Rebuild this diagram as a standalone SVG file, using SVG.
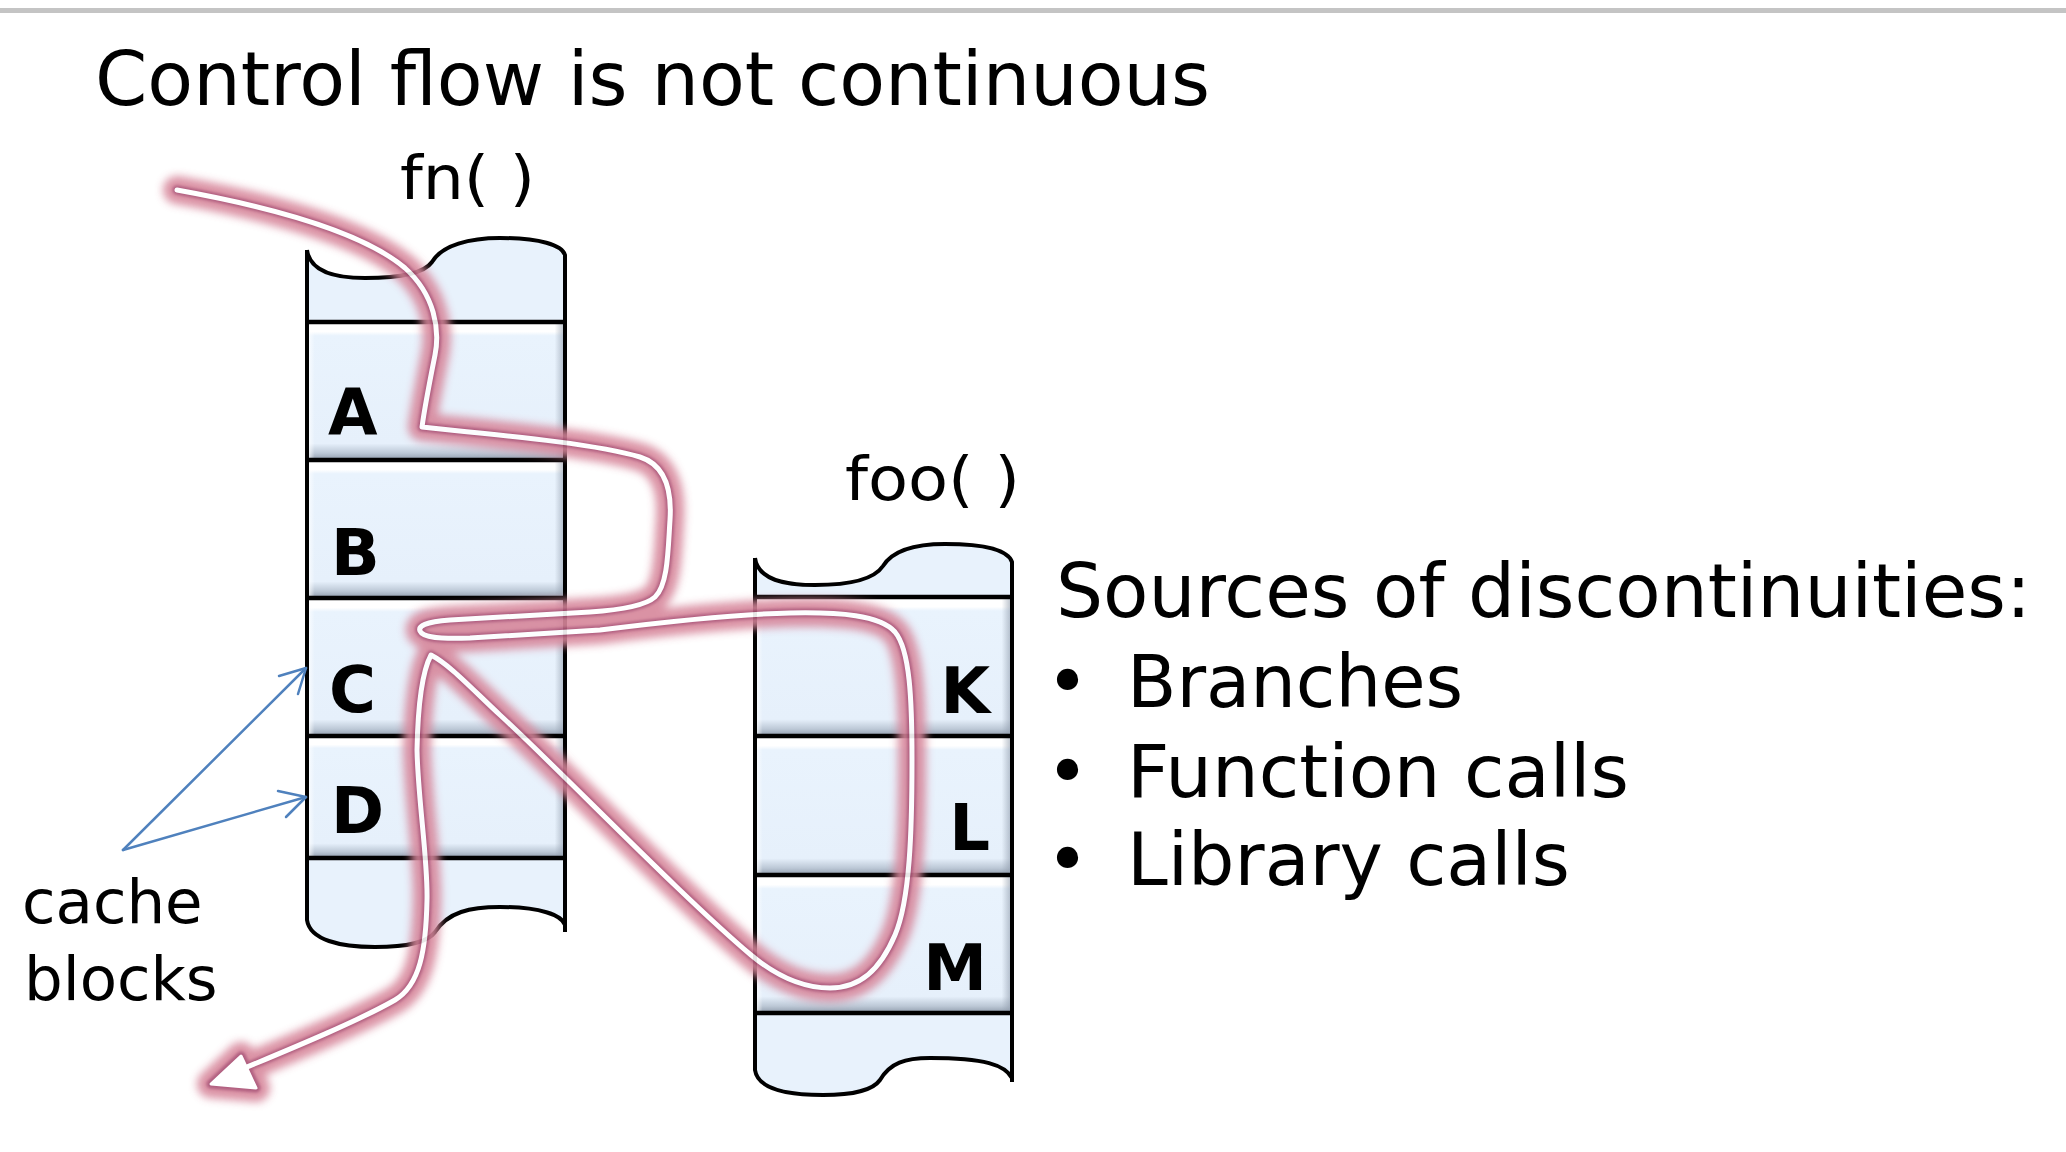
<svg xmlns="http://www.w3.org/2000/svg" width="2066" height="1152" viewBox="0 0 2066 1152">
<style>
.t{font-family:"DejaVu Sans",Verdana,sans-serif;fill:#000}
.lbl{font-family:"DejaVu Sans",Verdana,sans-serif;font-weight:bold;font-size:64px;fill:#000}
.edge{fill:none;stroke:#000;stroke-width:4;stroke-linejoin:round}
.rowline{stroke:#000;stroke-width:4.5}
.cap{fill:#e8f2fc}
.blue{fill:none;stroke:#4f81bd;stroke-width:2.5;stroke-linecap:round;stroke-linejoin:round}
.halo{fill:none;stroke:#d7879b;stroke-width:28;stroke-linecap:round;stroke-linejoin:round}
.core{fill:none;stroke:#a84e72;stroke-width:9;stroke-linecap:round;stroke-linejoin:round}
.hi{fill:none;stroke:#ffffff;stroke-width:5;stroke-linecap:round;stroke-linejoin:round}
</style>
<defs>
<linearGradient id="rowV" x1="0" y1="0" x2="0" y2="1">
<stop offset="0" stop-color="#ffffff"/>
<stop offset="0.07" stop-color="#ffffff"/>
<stop offset="0.1" stop-color="#e9f3fd"/>
<stop offset="0.88" stop-color="#e6f0fb"/>
<stop offset="0.95" stop-color="#bcc8d6"/>
<stop offset="1" stop-color="#8f9bab"/>
</linearGradient>
<linearGradient id="rowH" x1="0" y1="0" x2="1" y2="0">
<stop offset="0" stop-color="#ffffff" stop-opacity="0.9"/>
<stop offset="0.03" stop-color="#ffffff" stop-opacity="0"/>
<stop offset="0.96" stop-color="#8f9bab" stop-opacity="0"/>
<stop offset="1" stop-color="#8f9bab" stop-opacity="0.7"/>
</linearGradient>
<filter id="blur4" x="-20%" y="-20%" width="140%" height="140%"><feGaussianBlur stdDeviation="4.5"/></filter>
<filter id="blur2" x="-20%" y="-20%" width="140%" height="140%"><feGaussianBlur stdDeviation="1.5"/></filter>
<path id="flow" d="M177,190 C260,205 360,230 405,268 C435,295 440,330 435,355 C430,380 425,405 422,427 L450,430 C520,437 600,445 640,457 C665,465 672,490 670,520 C668,550 668,585 655,597 C645,606 620,610 590,612 L450,620 C425,622 418,626 420,631 C423,638 440,639 470,638 L600,630 C680,620 740,614 790,613 C840,612 880,615 895,632 C910,650 912,700 912,760 C912,830 910,900 895,935 C880,970 860,988 830,988 C800,988 775,975 751,955 C680,895 560,770 500,715 C470,687 450,665 431,655 C423,670 418,700 417,750 C418,800 428,860 427,900 C426,950 420,985 395,1000 C360,1020 300,1045 240,1070"/>
<polygon id="ahead" points="211,1084 241,1056 256,1088"/>
</defs>
<rect width="2066" height="1152" fill="#ffffff"/>
<rect x="0" y="8" width="2066" height="5" fill="#c4c4c4"/>

<text id="title" class="t" x="95" y="105" font-size="75" textLength="1115" lengthAdjust="spacingAndGlyphs">Control flow is not continuous</text>

<g id="fn-column">
<text class="t" x="400" y="199" font-size="60" textLength="135" lengthAdjust="spacingAndGlyphs">fn( )</text>
<path class="cap" d="M307,250 C310,272 335,278 365,278 C405,278 425,272 432,262 C442,245 470,238 500,238 C540,238 562,245 565,255 L565,925 C562,915 540,907 500,907 C470,907 448,912 435,932 C428,942 410,947 375,947 C340,947 310,940 307,920 Z"/>
<g id="block-A"><rect x="307" y="322" width="258" height="138" fill="url(#rowV)"/><rect x="307" y="322" width="258" height="138" fill="url(#rowH)"/><text class="lbl" x="328" y="435">A</text></g>
<g id="block-B"><rect x="307" y="460" width="258" height="138" fill="url(#rowV)"/><rect x="307" y="460" width="258" height="138" fill="url(#rowH)"/><text class="lbl" x="331" y="575">B</text></g>
<g id="block-C"><rect x="307" y="598" width="258" height="138" fill="url(#rowV)"/><rect x="307" y="598" width="258" height="138" fill="url(#rowH)"/><text class="lbl" x="329" y="712">C</text></g>
<g id="block-D"><rect x="307" y="736" width="258" height="122" fill="url(#rowV)"/><rect x="307" y="736" width="258" height="122" fill="url(#rowH)"/><text class="lbl" x="331" y="833">D</text></g>
<path class="edge" d="M307,250 C310,272 335,278 365,278 C405,278 425,272 432,262 C442,245 470,238 500,238 C540,238 562,245 565,255 L565,932 M565,925 C562,915 540,907 500,907 C470,907 448,912 435,932 C428,942 410,947 375,947 C340,947 310,940 307,920 L307,250"/>
<line class="rowline" x1="307" y1="322" x2="565" y2="322"/>
<line class="rowline" x1="307" y1="460" x2="565" y2="460"/>
<line class="rowline" x1="307" y1="598" x2="565" y2="598"/>
<line class="rowline" x1="307" y1="736" x2="565" y2="736"/>
<line class="rowline" x1="307" y1="858" x2="565" y2="858"/>
</g>

<g id="foo-column">
<text class="t" x="845" y="500" font-size="60" textLength="175" lengthAdjust="spacingAndGlyphs">foo( )</text>
<path class="cap" d="M755,558 C758,580 785,585 815,585 C855,585 875,578 883,566 C893,550 915,544 945,544 C985,544 1008,550 1012,562 L1012,1078 C1005,1065 985,1058 930,1058 C905,1058 890,1063 880,1080 C873,1090 855,1095 823,1095 C790,1095 758,1090 755,1070 Z"/>
<g id="block-K"><rect x="755" y="597" width="257" height="139" fill="url(#rowV)"/><rect x="755" y="597" width="257" height="139" fill="url(#rowH)"/><text class="lbl" x="990" y="713" text-anchor="end">K</text></g>
<g id="block-L"><rect x="755" y="736" width="257" height="139" fill="url(#rowV)"/><rect x="755" y="736" width="257" height="139" fill="url(#rowH)"/><text class="lbl" x="990" y="850" text-anchor="end">L</text></g>
<g id="block-M"><rect x="755" y="875" width="257" height="138" fill="url(#rowV)"/><rect x="755" y="875" width="257" height="138" fill="url(#rowH)"/><text class="lbl" x="987" y="990" text-anchor="end">M</text></g>
<path class="edge" d="M755,558 C758,580 785,585 815,585 C855,585 875,578 883,566 C893,550 915,544 945,544 C985,544 1008,550 1012,562 L1012,1082 M1012,1078 C1005,1065 985,1058 930,1058 C905,1058 890,1063 880,1080 C873,1090 855,1095 823,1095 C790,1095 758,1090 755,1070 L755,558"/>
<line class="rowline" x1="755" y1="597" x2="1012" y2="597"/>
<line class="rowline" x1="755" y1="736" x2="1012" y2="736"/>
<line class="rowline" x1="755" y1="875" x2="1012" y2="875"/>
<line class="rowline" x1="755" y1="1013" x2="1012" y2="1013"/>
</g>

<g id="connectors">
<g id="control-flow" opacity="0.9">
<g filter="url(#blur4)"><use href="#flow" class="halo"/><use href="#ahead" class="halo"/></g>
<g filter="url(#blur2)"><use href="#flow" class="core"/><use href="#ahead" class="core"/></g>
<use href="#flow" class="hi"/>
<use href="#ahead" fill="#ffffff" stroke="#ffffff" stroke-width="3" stroke-linejoin="round"/>
</g>
<g id="cache-arrows">
<line class="blue" x1="123" y1="850" x2="306" y2="668"/>
<polyline class="blue" points="279,676 306,668 298,694"/>
<line class="blue" x1="123" y1="850" x2="306" y2="797"/>
<polyline class="blue" points="278,791 306,797 286,817"/>
</g>
</g>

<g id="cache-label">
<text class="t" x="22" y="923" font-size="61">cache</text>
<text class="t" x="24" y="1000" font-size="61">blocks</text>
</g>

<g id="sources">
<text class="t" x="1056" y="617" font-size="75" textLength="975" lengthAdjust="spacingAndGlyphs">Sources of discontinuities:</text>
<text class="t" x="1046" y="707" font-size="73">•</text>
<text class="t" x="1127" y="707" font-size="73" textLength="336" lengthAdjust="spacingAndGlyphs">Branches</text>
<text class="t" x="1046" y="797" font-size="73">•</text>
<text class="t" x="1127" y="797" font-size="73" textLength="502" lengthAdjust="spacingAndGlyphs">Function calls</text>
<text class="t" x="1046" y="885" font-size="73">•</text>
<text class="t" x="1127" y="885" font-size="73" textLength="443" lengthAdjust="spacingAndGlyphs">Library calls</text>
</g>
</svg>
